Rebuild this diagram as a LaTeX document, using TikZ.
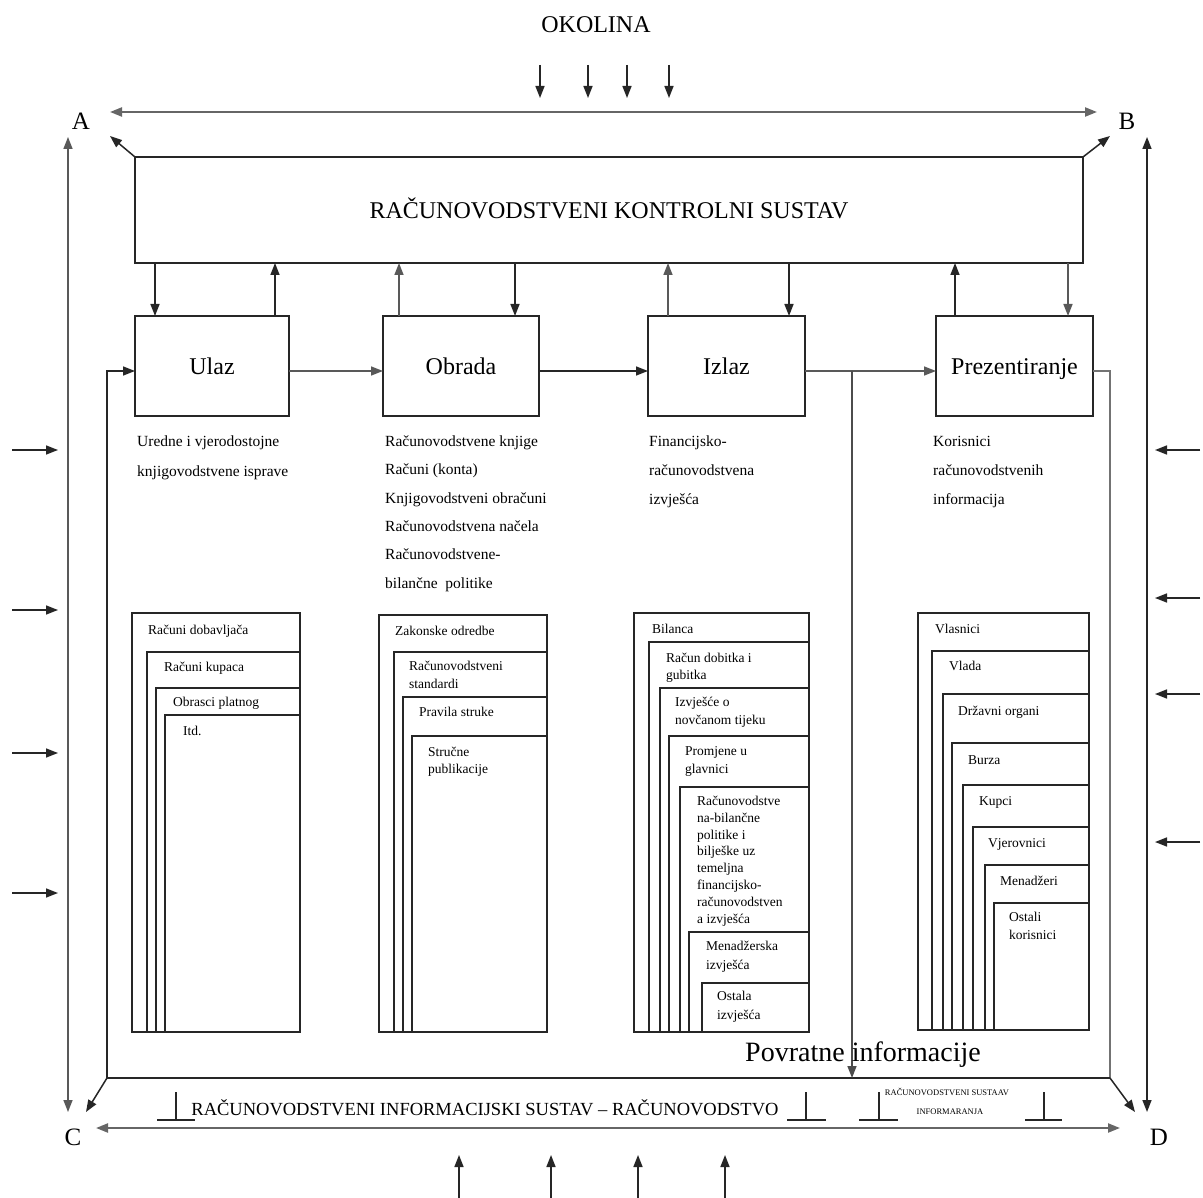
\documentclass[tikz,border=0pt]{standalone}
\usepackage{fontspec}
\setmainfont{Liberation Serif}
\usetikzlibrary{arrows.meta}
\newcommand\bxx[7]{\node[#2, minimum width={(#5-#3)*1pt}, minimum height={(#6-#4)*1pt}] (#1) at (#3,#4) {#7};}
\newcommand\txl[6]{\foreach \tx [count=\ti from 0] in {#6}{\node[#2] (#1-\ti) at ({#3},{#4+\ti*#5}) {\tx};}}
\begin{document}
\begin{tikzpicture}[x=1pt,y=-1pt,
  ln/.style={line width=1.5pt, draw=black!85},
  arr/.style={ln, -{Triangle[length=12pt,width=9pt]}},
  darr/.style={ln, {Triangle[length=12pt,width=9pt]}-{Triangle[length=12pt,width=9pt]}},
  bx/.style={draw=black!85, line width=1.5pt, inner sep=0pt, outer sep=0pt, anchor=north west,
    font=\fontsize{24}{28}\selectfont, text height=17pt, text depth=0pt},
  stk/.style={draw=black!85, line width=1.3pt, inner sep=0pt, outer sep=0pt, anchor=north west},
  lab/.style={font=\fontsize{25}{28}\selectfont, inner sep=0pt},
  desc/.style={font=\fontsize{15.5}{18}\selectfont, inner sep=0pt, anchor=mid west},
  sm/.style={font=\fontsize{13.5}{16}\selectfont, inner sep=0pt, anchor=mid west},
]
\useasboundingbox (0,0) rectangle (1203,1198);
\fill[white] (0,0) rectangle (1203,1198);

% title and environment arrows
\node[font=\fontsize{24}{28}\selectfont, inner sep=0pt, anchor=base] (okolina) at (596,33) {OKOLINA};
\foreach \xx in {540,588,627,669}{
  \coordinate (ot\xx) at (\xx,65); \coordinate (ob\xx) at (\xx,98);
  \draw[arr] (ot\xx) -- (ob\xx);}
\foreach \xx in {459,551,638,725}{
  \coordinate (bb\xx) at (\xx,1198); \coordinate (bt\xx) at (\xx,1155);
  \draw[arr] (bb\xx) -- (bt\xx);}
\foreach \yy in {450,610,753,893}{
  \coordinate (la\yy) at (12,\yy); \coordinate (lb\yy) at (58,\yy);
  \draw[arr] (la\yy) -- (lb\yy);}
\foreach \yy in {450,598,694,842}{
  \coordinate (ra\yy) at (1200,\yy); \coordinate (rb\yy) at (1155,\yy);
  \draw[arr] (ra\yy) -- (rb\yy);}

% corner labels
\node[lab] (A) at (81,121) {A};
\node[lab] (B) at (1127,121) {B};
\node[lab] (C) at (73,1137) {C};
\node[lab] (D) at (1159,1137) {D};

\coordinate (abL) at (110,112); \coordinate (abR) at (1097,112);
\draw[darr, line width=2.2pt, draw=black!60] (abL) -- (abR);
\coordinate (cdL) at (96,1128); \coordinate (cdR) at (1120,1128);
\draw[darr, line width=2.2pt, draw=black!60] (cdL) -- (cdR);
\coordinate (lvT) at (68,137); \coordinate (lvB) at (68,1112);
\draw[darr, draw=black!65] (lvT) -- (lvB);
\coordinate (rvT) at (1147,137); \coordinate (rvB) at (1147,1112);
\draw[darr] (rvT) -- (rvB);

% control system
\bxx{K}{bx}{135}{157}{1083}{263}{RAČUNOVODSTVENI KONTROLNI SUSTAV}
\coordinate (Atip) at (110,136); \coordinate (Btip) at (1110,136);
\draw[arr] (K.north west) -- (Atip);
\draw[arr] (K.north east) -- (Btip);

% process boxes
\bxx{U}{bx}{135}{316}{289}{416}{Ulaz}
\bxx{O}{bx}{383}{316}{539}{416}{Obrada}
\bxx{I}{bx}{648}{316}{805}{416}{Izlaz}
\bxx{P}{bx}{936}{316}{1093}{416}{Prezentiranje}

\draw[arr] (155,0 |- K.south) -- (155,0 |- U.north);
\draw[arr] (275,0 |- U.north) -- (275,0 |- K.south);
\draw[arr, draw=black!65] (399,0 |- O.north) -- (399,0 |- K.south);
\draw[arr] (515,0 |- K.south) -- (515,0 |- O.north);
\draw[arr, draw=black!65] (668,0 |- I.north) -- (668,0 |- K.south);
\draw[arr] (789,0 |- K.south) -- (789,0 |- I.north);
\draw[arr] (955,0 |- P.north) -- (955,0 |- K.south);
\draw[arr, draw=black!65] (1068,0 |- K.south) -- (1068,0 |- P.north);

\coordinate (row) at (0,371);
\draw[arr, draw=black!65] (U.east |- row) -- (O.west |- row);
\draw[arr] (O.east |- row) -- (I.west |- row);
\draw[arr, draw=black!65] (I.east |- row) -- (P.west |- row);

% feedback loop
\coordinate (fR) at (1110,371); \coordinate (fBR) at (1110,1078);
\coordinate (fBL) at (107,1078); \coordinate (fL) at (107,371);
\coordinate (fI) at (852,371); \coordinate (fIB) at (852,1078);
\draw[ln, draw=black!55] (P.east |- fR) -- (fR) -- (fBR);
\draw[ln] (fBR) -- (fBL);
\draw[arr] (fBL) -- (fL) -- (U.west |- fL);
\draw[arr, draw=black!70] (fI) -- (fIB);
\coordinate (Ctip) at (86,1112); \coordinate (Dtip) at (1135,1112);
\draw[arr] (fBL) -- (Ctip);
\draw[arr] (fBR) -- (Dtip);

\node[font=\fontsize{28}{32}\selectfont, inner sep=0pt, anchor=base] (povr) at (863,1061) {Povratne informacije};

% descriptions
\txl{du}{desc}{137}{444}{30}{Uredne i vjerodostojne,knjigovodstvene isprave}
\txl{do}{desc}{385}{444}{28.4}{Računovodstvene knjige,Računi (konta),Knjigovodstveni obračuni,Računovodstvena načela,Računovodstvene-,bilančne\ \ politike}
\txl{di}{desc}{649}{444}{29}{Financijsko-,računovodstvena,izvješća}
\txl{dp}{desc}{933}{444}{29}{Korisnici,računovodstvenih,informacija}

% stack 1
\bxx{s1a}{stk}{132}{613}{300}{1032}{}
\bxx{s1b}{stk}{147}{652}{300}{1032}{}
\bxx{s1c}{stk}{156}{688}{300}{1032}{}
\bxx{s1d}{stk}{165}{715}{300}{1032}{}
\txl{t1a}{sm}{148}{632}{17}{Računi dobavljača}
\txl{t1b}{sm}{164}{669}{17}{Računi kupaca}
\txl{t1c}{sm}{173}{704}{17}{Obrasci platnog}
\txl{t1d}{sm}{183}{733}{17}{Itd.}

% stack 2
\bxx{s2a}{stk}{379}{615}{547}{1032}{}
\bxx{s2b}{stk}{394}{652}{547}{1032}{}
\bxx{s2c}{stk}{403}{697}{547}{1032}{}
\bxx{s2d}{stk}{412}{736}{547}{1032}{}
\txl{t2a}{sm}{395}{633}{17}{Zakonske odredbe}
\txl{t2b}{sm}{409}{668}{18}{Računovodstveni,standardi}
\txl{t2c}{sm}{419}{714}{17}{Pravila struke}
\txl{t2d}{sm}{428}{754}{17}{Stručne,publikacije}

% stack 3
\bxx{s3a}{stk}{634}{613}{809}{1032}{}
\bxx{s3b}{stk}{649}{642}{809}{1032}{}
\bxx{s3c}{stk}{660}{688}{809}{1032}{}
\bxx{s3d}{stk}{669}{736}{809}{1032}{}
\bxx{s3e}{stk}{680}{787}{809}{1032}{}
\bxx{s3f}{stk}{689}{932}{809}{1032}{}
\bxx{s3g}{stk}{702}{983}{809}{1032}{}
\txl{t3a}{sm}{652}{631}{17}{Bilanca}
\txl{t3b}{sm}{666}{660}{17}{Račun dobitka i,gubitka}
\txl{t3c}{sm}{675}{704}{18}{Izvješće o,novčanom tijeku}
\txl{t3d}{sm}{685}{753}{18}{Promjene u,glavnici}
\txl{t3e}{sm}{697}{803}{16.9}{Računovodstve,na-bilančne,politike i,bilješke uz,temeljna,financijsko-,računovodstven,a izvješća}
\txl{t3f}{sm}{706}{948}{19}{Menadžerska,izvješća}
\txl{t3g}{sm}{717}{998}{19}{Ostala,izvješća}

% stack 4
\bxx{s4a}{stk}{918}{613}{1089}{1030}{}
\bxx{s4b}{stk}{932}{651}{1089}{1030}{}
\bxx{s4c}{stk}{943}{694}{1089}{1030}{}
\bxx{s4d}{stk}{952}{743}{1089}{1030}{}
\bxx{s4e}{stk}{963}{785}{1089}{1030}{}
\bxx{s4f}{stk}{973}{827}{1089}{1030}{}
\bxx{s4g}{stk}{985}{865}{1089}{1030}{}
\bxx{s4h}{stk}{994}{903}{1089}{1030}{}
\txl{t4a}{sm}{935}{631}{17}{Vlasnici}
\txl{t4b}{sm}{949}{668}{17}{Vlada}
\txl{t4c}{sm}{958}{713}{17}{Državni organi}
\txl{t4d}{sm}{968}{762}{17}{Burza}
\txl{t4e}{sm}{979}{803}{17}{Kupci}
\txl{t4f}{sm}{988}{845}{17}{Vjerovnici}
\txl{t4g}{sm}{1000}{883}{17}{Menadžeri}
\txl{t4h}{sm}{1009}{919}{18}{Ostali,korisnici}

% bottom system name
\node[font=\fontsize{18.5}{22}\selectfont, inner sep=0pt, anchor=base] (ris) at (485,1115) {RAČUNOVODSTVENI INFORMACIJSKI SUSTAV – RAČUNOVODSTVO};
\node[font=\fontsize{8.5}{10}\selectfont, inner sep=0pt, anchor=base] (rsi1) at (947,1095) {RAČUNOVODSTVENI SUSTAAV};
\node[font=\fontsize{8.5}{10}\selectfont, inner sep=0pt, anchor=base] (rsi2) at (950,1114) {INFORMARANJA};
\foreach \vx/\bl/\br in {176/157/195, 806/787/826, 879/859/898, 1044/1025/1062}{
  \draw[line width=1.3pt, draw=black!85] (\vx,1092) -- (\vx,1120);
  \draw[line width=1.3pt, draw=black!85] (\bl,1120) -- (\br,1120);}
\end{tikzpicture}
\end{document}
